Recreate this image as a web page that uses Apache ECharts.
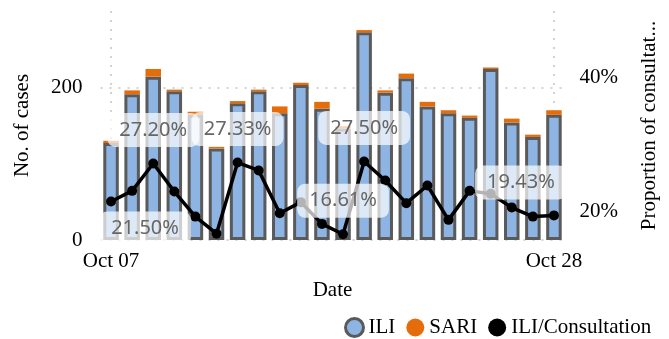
<!DOCTYPE html>
<html>
<head>
<meta charset="utf-8">
<script src="https://cdn.jsdelivr.net/npm/echarts@6/dist/echarts.min.js"></script>
<style>
  html, body { margin: 0; padding: 0; background: #fff; }
  #main { width: 669px; height: 339px; }
</style>
</head>
<body>
<div id="main"></div>
<script>
const dates = ['Oct 07', 'Oct 08', 'Oct 09', 'Oct 10', 'Oct 11', 'Oct 12', 'Oct 13', 'Oct 14',
  'Oct 15', 'Oct 16', 'Oct 17', 'Oct 18', 'Oct 19', 'Oct 20', 'Oct 21', 'Oct 22', 'Oct 23',
  'Oct 24', 'Oct 25', 'Oct 26', 'Oct 27', 'Oct 28'];
const iliCases = [127, 191, 214, 195, 164, 120, 179, 195, 166, 203, 172, 146, 272, 193, 212, 175, 166, 160, 224, 154, 135, 164];
const sariCases = [3, 5, 10, 2, 4, 2, 3, 2, 9, 3, 9, 3, 3, 3, 6, 6, 4, 3, 2, 5, 3, 6];
const iliRatio = [21.5, 23.1, 27.2, 23.0, 19.25, 16.7, 27.33, 26.15, 19.76, 21.41, 18.16, 16.61,
  27.5, 24.65, 21.26, 23.9, 18.76, 23.1, 22.65, 20.6, 19.25, 19.43];
const labelledPoints = [0, 2, 6, 11, 12, 21];
const ratioTicks = [20, 40];

// label boxes got nudged to stay inside the plot
const labelOffsets = { 0: [34, 27], 21: [-33, -33] };

const serif = 'Liberation Serif';
const myChart = echarts.init(document.getElementById('main'));

const ratioData = iliRatio.map((v, i) => {
  if (!labelledPoints.includes(i)) return v;
  return {
    value: v,
    label: {
      show: true,
      position: 'inside',
      offset: labelOffsets[i] || [0, -33.5],
      formatter: (p) => p.value.toFixed(2) + '%',
      fontFamily: 'Noto Sans',
      fontSize: 20,
      color: '#666',
      backgroundColor: 'rgba(255,255,255,0.7)',
      borderRadius: 8,
      padding: [7, 12]
    }
  };
});

const option = {
  animation: false,
  grid: { left: 100.5, right: 104.5, top: 11, bottom: 99 },
  legend: {
    data: [
      { name: 'ILI', itemStyle: { borderWidth: 3, borderColor: '#5a5a5a' } },
      'SARI',
      'ILI/Consultation'
    ],
    left: 344,
    top: 317,
    width: 325,
    padding: 0,
    icon: 'circle',
    itemWidth: 18,
    itemHeight: 18,
    itemGap: 11,
    textStyle: { fontFamily: serif, fontSize: 21, color: '#000' }
  },
  xAxis: {
    type: 'category',
    data: dates,
    name: 'Date',
    nameLocation: 'middle',
    nameGap: 40,
    nameTextStyle: { fontFamily: serif, fontSize: 21, color: '#000' },
    axisLine: { show: false },
    axisTick: { show: false },
    axisLabel: {
      interval: (i) => i === 0 || i === dates.length - 1,
      fontFamily: serif,
      fontSize: 21,
      color: '#000',
      margin: 11
    },
    splitLine: {
      show: true,
      alignWithLabel: true,
      interval: (i) => i === 0 || i === dates.length - 1,
      lineStyle: { color: '#c4c4c4', width: 1.5, type: [2, 7] }
    }
  },
  yAxis: [
    {
      type: 'value',
      min: 0,
      max: 300,
      interval: 200,
      name: 'No. of cases',
      nameLocation: 'middle',
      nameGap: 68,
      nameTextStyle: { fontFamily: serif, fontSize: 21, color: '#000' },
      axisLine: { show: false },
      axisTick: { show: false },
      axisLabel: { showMaxLabel: false, fontFamily: serif, fontSize: 21, color: '#000', margin: 18 },
      splitLine: {
        show: true,
        showMaxLine: false,
        lineStyle: { color: '#c4c4c4', width: 1.5, type: [2, 7] }
      }
    },
    {
      type: 'value',
      min: 15.75,
      max: 50,
      position: 'right',
      name: 'Proportion of consultations',
      nameLocation: 'middle',
      nameRotate: 90,
      nameGap: 74,
      nameTruncate: { maxWidth: 212 },
      nameTextStyle: { fontFamily: serif, fontSize: 21, color: '#000' },
      axisLine: { show: false },
      axisTick: { show: false },
      axisLabel: {
        customValues: ratioTicks,
        formatter: '{value}%',
        fontFamily: serif,
        fontSize: 21,
        color: '#000',
        margin: 15
      },
      splitLine: { show: false }
    }
  ],
  series: [
    {
      name: 'ILI',
      type: 'bar',
      stack: 'cases',
      barWidth: 15.5,
      data: iliCases,
      itemStyle: { color: '#8db4e2', borderColor: '#5a5a5a', borderWidth: 3 }
    },
    {
      name: 'SARI',
      type: 'bar',
      stack: 'cases',
      barWidth: 15.5,
      data: sariCases,
      itemStyle: { color: '#e46c0a' }
    },
    {
      name: 'ILI/Consultation',
      type: 'line',
      yAxisIndex: 1,
      data: ratioData,
      symbol: 'circle',
      symbolSize: 10,
      itemStyle: { color: '#000' },
      lineStyle: { color: '#000', width: 3.5 }
    }
  ]
};

myChart.setOption(option);
</script>
</body>
</html>
